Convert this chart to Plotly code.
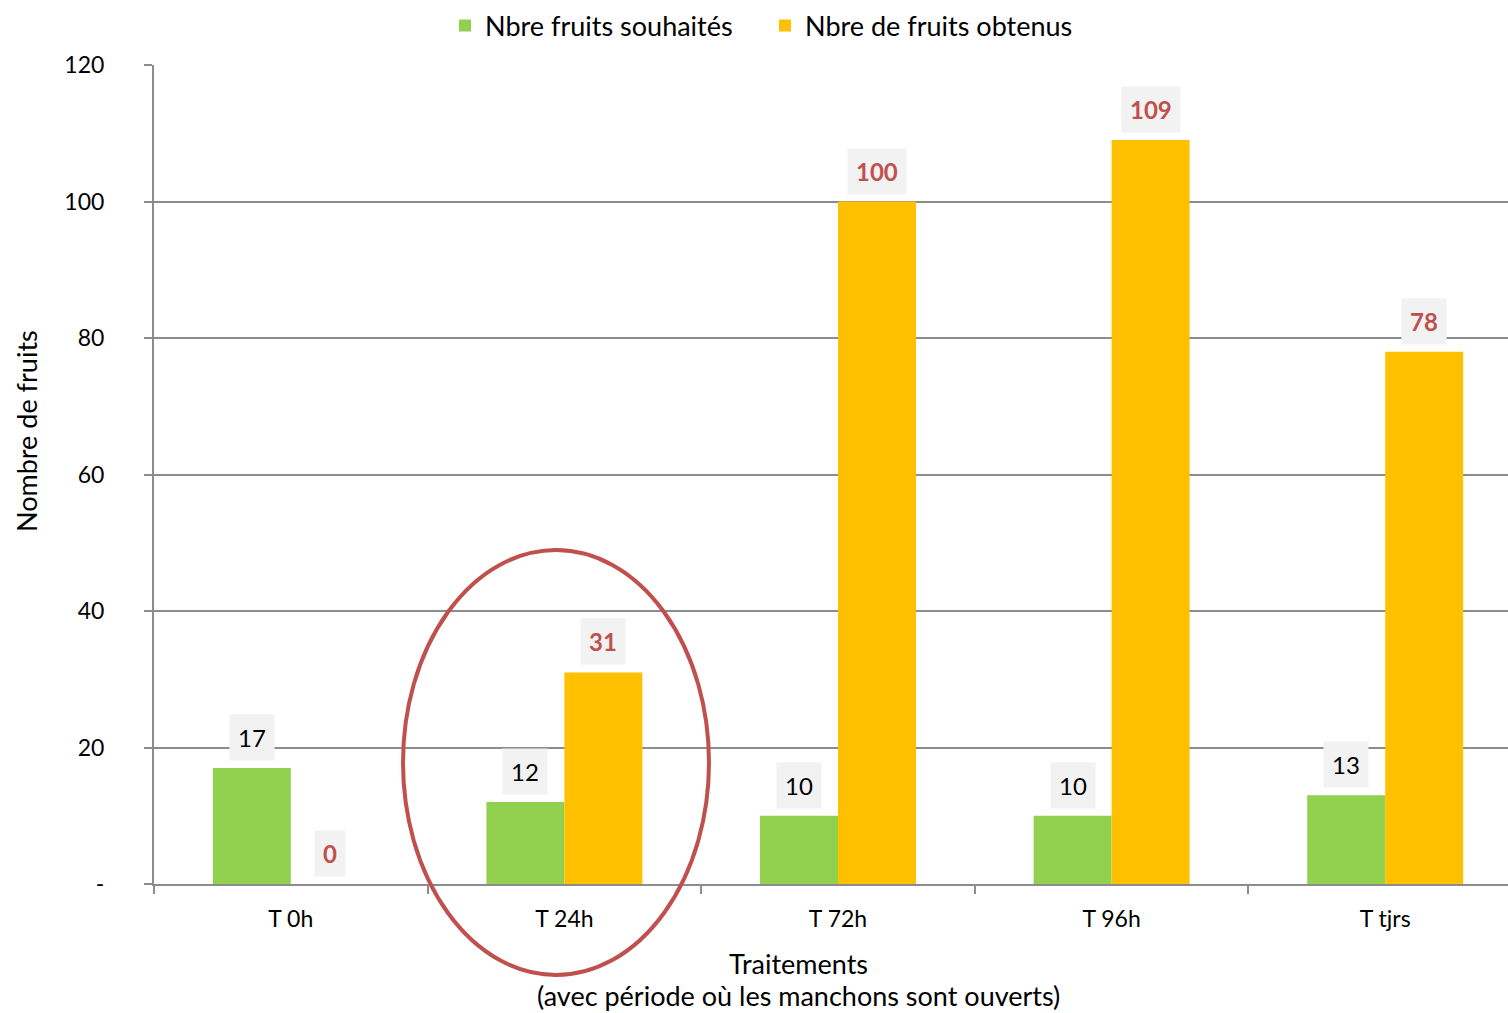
import plotly.graph_objects as go

# Data
categories = ["T 0h", "T 24h", "T 72h", "T 96h", "T tjrs"]
souhaites = [17, 12, 10, 10, 13]
obtenus = [0, 31, 100, 109, 78]
y_ticks = [0, 20, 40, 60, 80, 100, 120]
y_ticktext = ["-", "20", "40", "60", "80", "100", "120"]

GREEN = "#92D050"
ORANGE = "#FFC000"
RED = "#C0504D"
GRID = "#8C8C8C"
FONT = "Lato"

W, H = 1508, 1013
ML, MR, MT, MB = 154, 0, 65, 129
pw, ph = W - ML - MR, H - MT - MB

fig = go.Figure()
fig.add_trace(go.Bar(name="Nbre fruits souhaités", x=categories, y=souhaites,
                     marker=dict(color=GREEN, line=dict(width=0))))
fig.add_trace(go.Bar(name="Nbre de fruits obtenus", x=categories, y=obtenus,
                     marker=dict(color=ORANGE, line=dict(width=0))))

# Value labels in light boxes above each bar
for i, c in enumerate(categories):
    fig.add_annotation(x=c, y=souhaites[i], xref="x", yref="y", text=str(souhaites[i]),
                       showarrow=False, xshift=-39, yshift=7, yanchor="bottom",
                       bgcolor="#F2F2F2", borderpad=8,
                       font=dict(family=FONT, size=24, color="#000000"))
    fig.add_annotation(x=c, y=obtenus[i], xref="x", yref="y", text="<b>%d</b>" % obtenus[i],
                       showarrow=False, xshift=39, yshift=7, yanchor="bottom",
                       bgcolor="#F2F2F2", borderpad=8,
                       font=dict(family=FONT, size=24, color=RED))

# Axis titles
fig.add_annotation(x=(798 - ML) / pw, y=-(963 - 884) / ph,
                   xref="paper", yref="paper", showarrow=False,
                   xanchor="center", yanchor="middle",
                   text="Traitements", font=dict(family=FONT, size=27, color="#000"))
fig.add_annotation(x=(798 - ML) / pw, y=-(995 - 884) / ph,
                   xref="paper", yref="paper", showarrow=False,
                   xanchor="center", yanchor="middle",
                   text="(avec période où les manchons sont ouverts)",
                   font=dict(family=FONT, size=27, color="#000"))
fig.add_annotation(x=-(ML - 26) / pw, y=(884 - 431) / ph,
                   xref="paper", yref="paper", showarrow=False, textangle=-90,
                   xanchor="center", yanchor="middle",
                   text="Nombre de fruits", font=dict(family=FONT, size=27, color="#000"))

# Highlight ellipse around T 24h
fig.add_shape(type="circle", xref="paper", yref="paper",
              x0=(403 - ML) / pw, x1=(709 - ML) / pw,
              y0=(884 - 975) / ph, y1=(884 - 550) / ph,
              line=dict(color=RED, width=4), fillcolor="rgba(0,0,0,0)", layer="above")

fig.update_layout(
    width=W, height=H,
    margin=dict(l=ML, r=MR, t=MT, b=MB),
    paper_bgcolor="white", plot_bgcolor="white",
    barmode="group", bargap=0.43, bargroupgap=0,
    font=dict(family=FONT, size=23, color="#000"),
    legend=dict(orientation="h", x=(445 - ML) / pw, xanchor="left",
                y=1 + (MT - 26) / ph, yanchor="middle",
                font=dict(family=FONT, size=27), entrywidth=275,
                bgcolor="rgba(0,0,0,0)"),
    xaxis=dict(range=[-0.5, -0.5 + pw / 273.6], showgrid=False,
               showline=True, linecolor=GRID, linewidth=2,
               ticks="outside", tickson="boundaries", ticklen=8, tickcolor=GRID,
               tickwidth=2, ticklabelstandoff=13,
               tickfont=dict(family=FONT, size=23)),
    yaxis=dict(range=[0, 120], tickvals=y_ticks, ticktext=y_ticktext,
               showgrid=True, gridcolor=GRID, gridwidth=2,
               showline=True, linecolor=GRID, linewidth=2, zeroline=False,
               ticks="outside", ticklen=8, tickcolor=GRID, tickwidth=2,
               ticklabelstandoff=35, tickfont=dict(family=FONT, size=23)),
)

fig.write_html("out.html")
